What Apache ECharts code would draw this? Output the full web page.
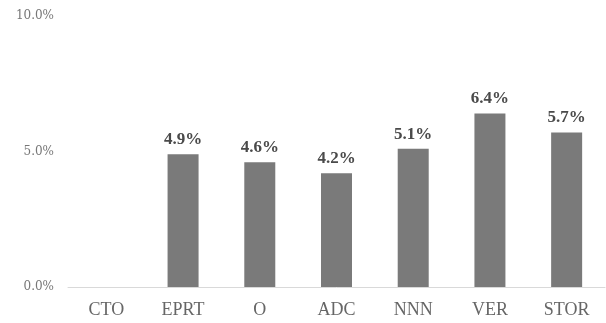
<!DOCTYPE html>
<html>
<head>
<meta charset="utf-8">
<script src="https://cdn.jsdelivr.net/npm/echarts@6/dist/echarts.min.js"></script>
<style>
  html, body { margin: 0; padding: 0; background: #fff; }
  #chart { width: 606px; height: 323px; }
</style>
</head>
<body>
<div id="chart"></div>
<script>
// Dividend yield by ticker (percent)
const categories = ['CTO', 'EPRT', 'O', 'ADC', 'NNN', 'VER', 'STOR'];
const yieldValues = [null, 4.9, 4.6, 4.2, 5.1, 6.4, 5.7];
const yTicks = [0, 5, 10];

const chart = echarts.init(document.getElementById('chart'));
chart.setOption({
  animation: false,
  grid: { left: 68, right: 1, top: 16, bottom: 36, containLabel: false },
  xAxis: {
    type: 'category',
    data: categories,
    axisLine: { lineStyle: { color: '#d9d9d9', width: 1 } },
    axisTick: { show: false },
    axisLabel: {
      color: '#666666',
      fontFamily: 'Liberation Serif',
      fontSize: 18,
      margin: 14
    }
  },
  yAxis: {
    type: 'value',
    min: yTicks[0],
    max: yTicks[yTicks.length - 1],
    interval: yTicks[1] - yTicks[0],
    axisLine: { show: false },
    axisTick: { show: false },
    splitLine: { show: false },
    axisLabel: {
      color: '#777777',
      fontFamily: 'DejaVu Serif',
      fontSize: 12,
      margin: 14,
      formatter: v => v.toFixed(1) + '%'
    }
  },
  series: [{
    type: 'bar',
    data: yieldValues,
    barWidth: 31,
    itemStyle: { color: '#7a7a7a' },
    label: {
      show: true,
      position: 'top',
      distance: 6,
      color: '#4a4a4a',
      fontFamily: 'Liberation Serif',
      fontWeight: 'bold',
      fontSize: 17,
      formatter: p => p.value.toFixed(1) + '%'
    }
  }]
});
</script>
</body>
</html>
